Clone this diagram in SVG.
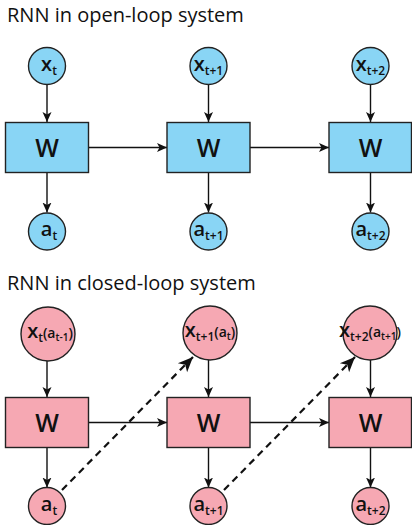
<svg xmlns="http://www.w3.org/2000/svg" width="412" height="525" viewBox="0 0 412 525">
<defs>
<marker id="ah" markerUnits="userSpaceOnUse" markerWidth="10" markerHeight="10" viewBox="0 0 10 10" refX="10" refY="5" orient="auto">
<path d="M0,0.5 L10,5 L0,9.5 L2.5,5 z" fill="#111"/>
</marker>
<marker id="ahd" markerUnits="userSpaceOnUse" markerWidth="15" markerHeight="15" viewBox="0 0 15 15" refX="15" refY="7.5" orient="auto">
<path d="M0,1 L15,7.5 L0,14 L4,7.5 z" fill="#111"/>
</marker>
<style>
.title{font-family:"Open Sans","Liberation Sans",sans-serif;font-size:20px;fill:#111}
.lbl{font-family:"Open Sans","Liberation Sans",sans-serif;font-weight:600;fill:#111;text-anchor:middle}
.w{font-size:25px}
.blue{fill:#89D5F5;stroke:#222;stroke-width:1.4}
.pink{fill:#F6A8B3;stroke:#222;stroke-width:1.4}
.c{stroke:#111;stroke-width:1.4;fill:none;marker-end:url(#ah)}
.d{stroke:#111;stroke-width:2.2;fill:none;stroke-dasharray:7 5;marker-end:url(#ahd)}
</style>
</defs>
<text class="title" x="7" y="22">RNN in open-loop system</text>
<text class="title" x="7" y="290">RNN in closed-loop system</text>
<g id="connectors">
<path class="c" d="M47,84.5 V122"/>
<path class="c" d="M208.5,84.5 V122"/>
<path class="c" d="M370.5,84.5 V122"/>
<path class="c" d="M47,173 V212.5"/>
<path class="c" d="M208.5,173 V212.5"/>
<path class="c" d="M370.5,173 V212.5"/>
<path class="c" d="M88.5,147.5 H167"/>
<path class="c" d="M250,147.5 H329"/>
<path class="c" d="M47,361 V397"/>
<path class="c" d="M208.5,360 V397"/>
<path class="c" d="M370.5,360 V397"/>
<path class="c" d="M47,448 V487.5"/>
<path class="c" d="M208.5,448 V487.5"/>
<path class="c" d="M370.5,448 V487.5"/>
<path class="c" d="M88.5,422.5 H167"/>
<path class="c" d="M250,422.5 H329"/>
<path class="d" d="M62,490 L193,357"/>
<path class="d" d="M224,490 L355,357"/>
</g>
<g id="x1"><circle class="blue" cx="47" cy="66" r="18.5"/><text class="lbl" x="49" y="71" font-size="20">x<tspan font-size="12" dy="4">t</tspan></text></g>
<g id="x2"><circle class="blue" cx="208.5" cy="66" r="18.5"/><text class="lbl" x="208.5" y="71" font-size="20">x<tspan font-size="12" dy="4">t+1</tspan></text></g>
<g id="x3"><circle class="blue" cx="370.5" cy="66" r="18.5"/><text class="lbl" x="370.5" y="71" font-size="20">x<tspan font-size="12" dy="4">t+2</tspan></text></g>
<g id="w1"><rect class="blue" x="5.5" y="122.5" width="83" height="50"/><text class="lbl w" x="47" y="156.5">W</text></g>
<g id="w2"><rect class="blue" x="167" y="122.5" width="83" height="50"/><text class="lbl w" x="208.5" y="156.5">W</text></g>
<g id="w3"><rect class="blue" x="329" y="122.5" width="82.5" height="50"/><text class="lbl w" x="370.5" y="156.5">W</text></g>
<g id="a1"><circle class="blue" cx="47" cy="231.5" r="18.5"/><text class="lbl" x="49" y="236" font-size="20">a<tspan font-size="12" dy="4">t</tspan></text></g>
<g id="a2"><circle class="blue" cx="208.5" cy="231.5" r="18.5"/><text class="lbl" x="208.5" y="236" font-size="20">a<tspan font-size="12" dy="4">t+1</tspan></text></g>
<g id="a3"><circle class="blue" cx="370.5" cy="231.5" r="18.5"/><text class="lbl" x="370.5" y="236" font-size="20">a<tspan font-size="12" dy="4">t+2</tspan></text></g>
<g id="cx1"><circle class="pink" cx="48" cy="334" r="27"/><text class="lbl" x="50" y="338" font-size="20">x<tspan font-size="12" dy="4">t</tspan><tspan font-size="14" dy="-4">(a</tspan><tspan font-size="10" dy="3">t-1</tspan><tspan font-size="14" dy="-3">)</tspan></text></g>
<g id="cx2"><circle class="pink" cx="210" cy="333" r="27"/><text class="lbl" x="210" y="337" font-size="20">x<tspan font-size="12" dy="4">t+1</tspan><tspan font-size="14" dy="-4">(a</tspan><tspan font-size="10" dy="3">t</tspan><tspan font-size="14" dy="-3">)</tspan></text></g>
<g id="cx3"><circle class="pink" cx="370" cy="333" r="27"/><text class="lbl" x="370" y="337" font-size="20">x<tspan font-size="12" dy="4">t+2</tspan><tspan font-size="14" dy="-4">(a</tspan><tspan font-size="10" dy="3">t+1</tspan><tspan font-size="14" dy="-3">)</tspan></text></g>
<g id="cw1"><rect class="pink" x="5.5" y="397.5" width="83" height="50"/><text class="lbl w" x="47" y="431.5">W</text></g>
<g id="cw2"><rect class="pink" x="167" y="397.5" width="83" height="50"/><text class="lbl w" x="208.5" y="431.5">W</text></g>
<g id="cw3"><rect class="pink" x="329" y="397.5" width="82.5" height="50"/><text class="lbl w" x="370.5" y="431.5">W</text></g>
<g id="ca1"><circle class="pink" cx="47" cy="506" r="18.5"/><text class="lbl" x="49" y="510.5" font-size="20">a<tspan font-size="12" dy="4">t</tspan></text></g>
<g id="ca2"><circle class="pink" cx="208.5" cy="506" r="18.5"/><text class="lbl" x="208.5" y="510.5" font-size="20">a<tspan font-size="12" dy="4">t+1</tspan></text></g>
<g id="ca3"><circle class="pink" cx="370.5" cy="506" r="18.5"/><text class="lbl" x="370.5" y="510.5" font-size="20">a<tspan font-size="12" dy="4">t+2</tspan></text></g>
</svg>
